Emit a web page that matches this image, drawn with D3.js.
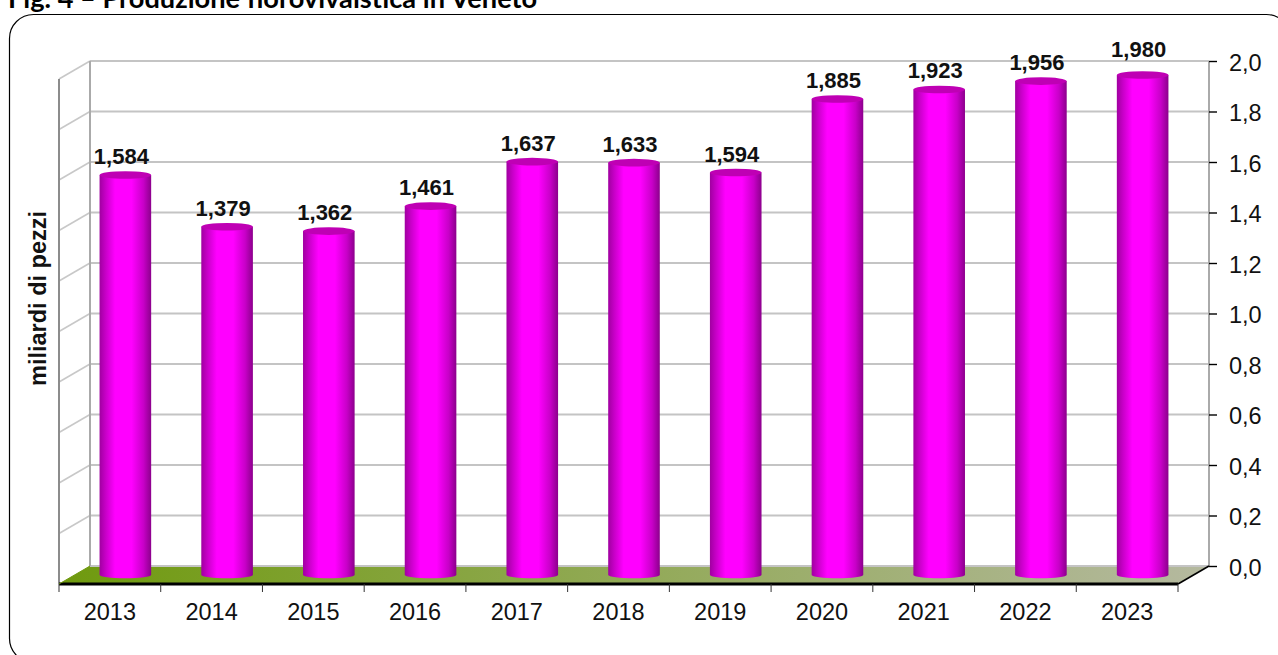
<!DOCTYPE html>
<html lang="it">
<head>
<meta charset="utf-8">
<title>Produzione florovivaistica in Veneto</title>
<script src="https://cdn.jsdelivr.net/npm/d3@7"></script>
<style>
  html, body { margin: 0; padding: 0; background: #fff; overflow: hidden; }
  svg { display: block; font-family: "Liberation Sans", Arial, sans-serif; }
</style>
</head>
<body>
<svg id="chart" width="1278" height="655"></svg>
<script>
// Annual output, billions of pieces
const years = ["2013", "2014", "2015", "2016", "2017", "2018", "2019", "2020", "2021", "2022", "2023"];
const production = [1.584, 1.379, 1.362, 1.461, 1.637, 1.633, 1.594, 1.885, 1.923, 1.956, 1.980];
const axisTicks = [0, 0.2, 0.4, 0.6, 0.8, 1.0, 1.2, 1.4, 1.6, 1.8, 2.0];
const chartTitle = "Fig. 4 – Produzione florovivaistica in Veneto";
const yTitle = "miliardi di pezzi";

// Oblique projection of the box: the back wall is shifted by depth from the front plane
const depth = { x: 31, y: -18 };
const frontLeft = 59, frontRight = 1178, floorFront = 584;
const wallTop = 61, wallBottom = floorFront + depth.y;
const barRx = 25.8, topRy = 3.8, baseRy = 3.2;

const svg = d3.select("#chart");
const comma = d3.formatLocale({ decimal: ",", thousands: ".", grouping: [3], currency: ["", ""] });

const x = d3.scaleBand().domain(years).range([frontLeft, frontRight]).paddingInner(0).paddingOuter(0);
const y = d3.scaleLinear().domain([0, 2]).range([wallBottom, wallTop]);

const defs = svg.append("defs");

const floorFill = defs.append("linearGradient").attr("id", "floorFill");
floorFill.append("stop").attr("offset", "0%").attr("stop-color", "#6f9a0e");
floorFill.append("stop").attr("offset", "100%").attr("stop-color", "#b5b9a0");

// Horizontal shading of the cylinder body
const barFill = defs.append("linearGradient").attr("id", "barFill");
[[0, "#a000a0"], [0.12, "#c800c8"], [0.3, "#ff00ff"], [0.62, "#ff00ff"], [0.85, "#c800c8"], [1, "#8c008c"]]
  .forEach(([o, c]) => barFill.append("stop").attr("offset", o).attr("stop-color", c));

// Panel frame, running past the right and bottom edges of the page
svg.append("rect")
  .attr("x", 9.5).attr("y", 14.5)
  .attr("width", 1281).attr("height", 648)
  .attr("rx", 24).attr("ry", 24)
  .attr("fill", "#fff").attr("stroke", "#000").attr("stroke-width", 1.2);

svg.append("text")
  .attr("x", 8).attr("y", 7.5)
  .attr("font-family", "Lato, Carlito, sans-serif")
  .attr("font-weight", 700).attr("font-size", 27.2)
  .attr("fill", "#000")
  .text(chartTitle);

// Floor
svg.append("polygon")
  .attr("points", [
    [frontLeft, floorFront], [frontRight, floorFront],
    [frontRight + depth.x, wallBottom], [frontLeft + depth.x, wallBottom]
  ].join(" "))
  .attr("fill", "url(#floorFill)");

// Gridlines on the back wall and across the left wall
const grid = svg.append("g").attr("fill", "none");
grid.selectAll("line.back").data(axisTicks).join("line")
  .attr("class", "back")
  .attr("x1", frontLeft + depth.x).attr("x2", frontRight + depth.x)
  .attr("y1", d => y(d)).attr("y2", d => y(d))
  .attr("stroke", "#c4c4c4").attr("stroke-width", 2);
grid.selectAll("line.side").data(axisTicks.filter(d => d > 0)).join("line")
  .attr("class", "side")
  .attr("x1", frontLeft).attr("x2", frontLeft + depth.x)
  .attr("y1", d => y(d) - depth.y).attr("y2", d => y(d))
  .attr("stroke", "#c8c8c8").attr("stroke-width", 1.6);

// Wall edges
[[frontLeft + depth.x, wallTop, frontLeft + depth.x, wallBottom, "#aaaaaa"],
 [frontRight + depth.x, wallTop, frontRight + depth.x, wallBottom, "#aaaaaa"],
 [frontLeft, wallTop - depth.y, frontLeft, floorFront, "#8c8c8c"]]
  .forEach(([x1, y1, x2, y2, c]) => grid.append("line")
    .attr("x1", x1).attr("y1", y1).attr("x2", x2).attr("y2", y2)
    .attr("stroke", c).attr("stroke-width", 2));

// Front floor edge and its diagonals
svg.append("line")
  .attr("x1", frontLeft).attr("x2", frontRight)
  .attr("y1", floorFront).attr("y2", floorFront)
  .attr("stroke", "#000").attr("stroke-width", 3);
svg.append("line")
  .attr("x1", frontRight).attr("y1", floorFront)
  .attr("x2", frontRight + depth.x).attr("y2", wallBottom)
  .attr("stroke", "#000").attr("stroke-width", 1.6);
svg.append("line")
  .attr("x1", frontLeft).attr("y1", floorFront)
  .attr("x2", frontLeft + depth.x).attr("y2", wallBottom)
  .attr("stroke", "#6f9a0e").attr("stroke-width", 1);

// Category ticks fall on the band boundaries
svg.selectAll("line.cat").data([...years.map(d => x(d)), frontRight]).join("line")
  .attr("class", "cat")
  .attr("x1", d => d).attr("x2", d => d)
  .attr("y1", floorFront).attr("y2", floorFront + 8)
  .attr("stroke", "#333").attr("stroke-width", 1);

// Category axis
const xAxis = svg.append("g")
  .attr("transform", `translate(0,${floorFront})`)
  .call(d3.axisBottom(x).tickSize(0).tickPadding(19));
xAxis.select(".domain").remove();
xAxis.selectAll("text")
  .attr("font-family", '"Liberation Sans", Arial, sans-serif')
  .attr("font-size", 23.5).attr("fill", "#111");

// Value axis on the far side of the box
const yAxis = svg.append("g")
  .attr("transform", `translate(${frontRight + depth.x},0)`)
  .call(d3.axisRight(y).tickValues(axisTicks).tickSize(8).tickPadding(12)
    .tickFormat(comma.format(".1f")));
yAxis.select(".domain").remove();
yAxis.selectAll("line").attr("stroke", "#000").attr("stroke-width", 1.4);
yAxis.selectAll("text")
  .attr("dy", "0.4em")
  .attr("font-family", '"Liberation Sans", Arial, sans-serif')
  .attr("font-size", 23.5).attr("fill", "#111");

// Cylinders stand halfway along the depth of the floor
const midX = depth.x / 2, midY = depth.y / 2;
const series = years.map((year, i) => ({ year, value: production[i] }));
const bars = svg.append("g").selectAll("g").data(series).join("g")
  .attr("transform", d => `translate(${x(d.year) + x.bandwidth() / 2 + midX},0)`);

bars.append("path")
  .attr("fill", "url(#barFill)")
  .attr("d", d => {
    const top = y(d.value) + (-midY), base = y(0) + (-midY);
    return `M${-barRx},${top}L${-barRx},${base}` +
      `A${barRx},${baseRy} 0 0 0 ${barRx},${base}L${barRx},${top}Z`;
  });

bars.append("ellipse")
  .attr("cx", 0).attr("cy", d => y(d.value) - midY)
  .attr("rx", barRx).attr("ry", topRy)
  .attr("fill", "#bf00b4");

// Value labels sit just above each cylinder, shifted slightly to the left
bars.append("text")
  .attr("x", -4)
  .attr("y", (d, i) => y(d.value) - midY - (i === years.length - 1 ? 18 : 11))
  .attr("text-anchor", "middle")
  .attr("font-weight", 700).attr("font-size", 22).attr("fill", "#111")
  .text(d => comma.format(".3f")(d.value));

// Value axis title
svg.append("text")
  .attr("transform", "translate(46,298.5) rotate(-90)")
  .attr("text-anchor", "middle")
  .attr("font-weight", 700).attr("font-size", 23.5).attr("fill", "#111")
  .text(yTitle);
</script>
</body>
</html>
